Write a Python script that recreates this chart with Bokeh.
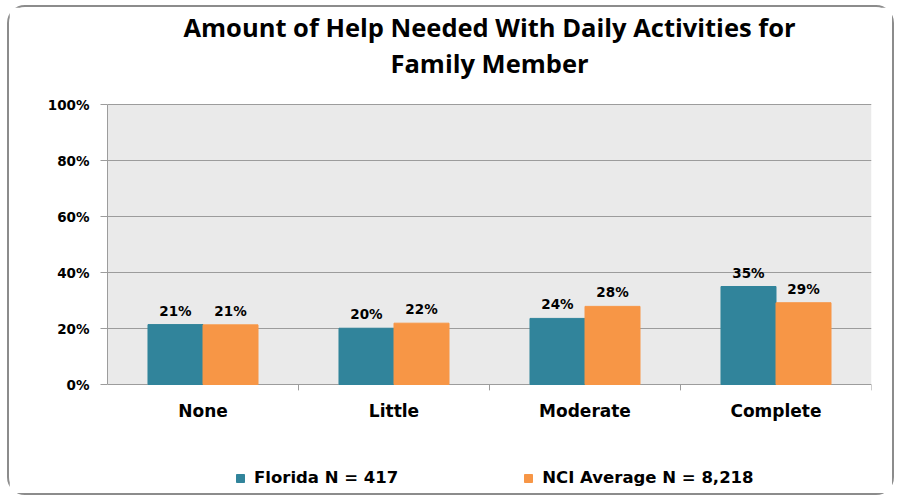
from bokeh.plotting import figure
from bokeh.models import (ColumnDataSource, FactorRange, Range1d, Legend, LegendItem, Title,
                          FixedTicker, LabelSet, BoxAnnotation)
from bokeh.core.properties import value
from bokeh.transform import dodge
from bokeh.embed import file_html
from bokeh.resources import INLINE

categories = ["None", "Little", "Moderate", "Complete"]
florida = [21.4, 20.1, 23.6, 35.0]
nci = [21.3, 21.9, 27.9, 29.2]
florida_labels = ["21%", "20%", "24%", "35%"]
nci_labels = ["21%", "22%", "28%", "29%"]
series_names = ["Florida N = 417", "NCI Average N = 8,218"]
title_lines = ["Amount of Help Needed With Daily Activities for", "Family Member"]
y_ticks = [0, 20, 40, 60, 80, 100]

TEAL = "#31849B"
ORANGE = "#F79646"
GRID = "#9c9c9c"
PX_PER_PCT = 2.8

src = ColumnDataSource(dict(cat=categories, fl=florida, nci=nci, fll=florida_labels, ncil=nci_labels,
                            zero=[0] * len(categories), tick=[-2.1] * len(categories)))

# frame spans a little above 100% and below 0% (room for the legend); the gray plot area is 0..100
y_top = 100 + 25 / PX_PER_PCT
y_bottom = y_top - 414 / PX_PER_PCT
p = figure(x_range=FactorRange(*categories, range_padding=0), y_range=Range1d(y_bottom, y_top),
           width=887, height=490, output_backend="svg", toolbar_location=None,
           min_border_left=98, min_border_right=25, min_border_top=72, min_border_bottom=4)

# first title line (outer) is the figure's own title; second line is added closer to the plot
p.title.text = title_lines[0]
p.title.align = "center"
p.title.text_font = "Open Sans"
p.title.text_font_size = "25.5px"
p.title.text_font_style = "bold"
p.title.text_color = "#000000"
p.title.text_line_height = 0.75
p.title.standoff = 0
p.add_layout(Title(text=title_lines[1], align="center", text_font="Open Sans", text_font_size="25.5px",
                   text_font_style="bold", text_color="#000000", text_line_height=0.87, standoff=0), "above")

p.styles = {"border": "2px solid #8c8c8c", "border-radius": "18px", "margin": "5px 0 0 7px"}
p.background_fill_color = "white"
p.border_fill_color = "white"
p.outline_line_color = None

plot_area = BoxAnnotation(bottom=0, top=100, fill_color="#EAEAEA", fill_alpha=1, line_color=None, level="image")
p.add_layout(plot_area)

r1 = p.vbar(x=dodge("cat", -0.144, range=p.x_range), top="fl", width=0.288, source=src,
            fill_color=TEAL, line_color=TEAL)
r2 = p.vbar(x=dodge("cat", 0.144, range=p.x_range), top="nci", width=0.288, source=src,
            fill_color=ORANGE, line_color=ORANGE)

# category tick marks at the boundaries between groups
p.segment(x0=dodge("cat", 0.5, range=p.x_range), y0="zero", x1=dodge("cat", 0.5, range=p.x_range), y1="tick",
          source=src, line_color=GRID, line_width=1)

for xoff, col, lab in [(-0.144, "fl", "fll"), (0.144, "nci", "ncil")]:
    ls = LabelSet(x=dodge("cat", xoff, range=p.x_range), y=col, text=lab, source=src,
                  text_align="center", text_baseline="bottom", y_offset=6,
                  text_font=value("DejaVu Sans"), text_font_size="13.5px", text_font_style="bold",
                  text_color="#000000")
    p.add_layout(ls)

cat_labels = LabelSet(x="cat", y="zero", text="cat", source=src, text_align="center", text_baseline="top",
                      y_offset=-16, text_font=value("DejaVu Sans"), text_font_size="17px", text_font_style="bold",
                      text_color="#000000")
p.add_layout(cat_labels)

p.xaxis.visible = False

p.yaxis.ticker = FixedTicker(ticks=y_ticks)
p.yaxis.bounds = (0, 100)
p.yaxis.major_label_overrides = {t: f"{t}%" for t in y_ticks}
p.yaxis.major_label_text_font = "DejaVu Sans"
p.yaxis.major_label_text_font_style = "bold"
p.yaxis.major_label_text_font_size = "13.5px"
p.yaxis.major_label_text_color = "#000000"
p.yaxis.axis_line_color = GRID
p.yaxis.major_tick_line_color = GRID
p.yaxis.major_tick_out = 7
p.yaxis.major_tick_in = 0
p.yaxis.minor_tick_line_color = None
p.yaxis.major_label_standoff = 11

p.xgrid.grid_line_color = None
p.ygrid.ticker = FixedTicker(ticks=y_ticks)
p.ygrid.grid_line_color = GRID
p.ygrid.grid_line_width = 1

legend = Legend(items=[LegendItem(label=series_names[0], renderers=[r1]),
                       LegendItem(label=series_names[1], renderers=[r2])],
                orientation="horizontal", location=(128, 6), spacing=125,
                label_text_font="DejaVu Sans", label_text_font_style="bold", label_text_font_size="16.5px",
                label_text_color="#000000", glyph_width=10, glyph_height=10, label_standoff=9,
                border_line_color=None, background_fill_alpha=0, margin=0, padding=0)
p.add_layout(legend, "center")

open("out.html", "w").write(file_html(p, INLINE))
